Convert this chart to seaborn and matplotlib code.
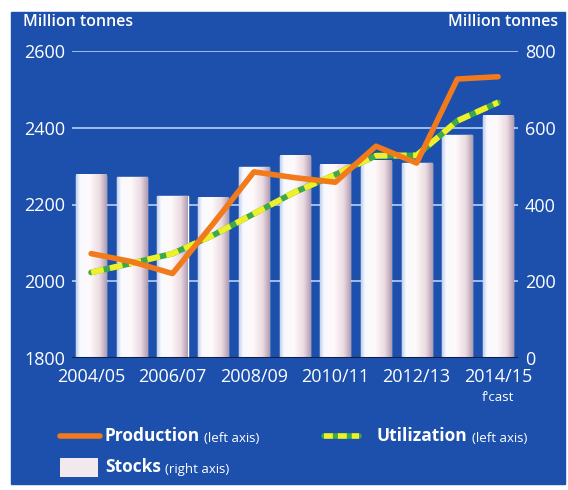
import numpy as np
import pandas as pd
import matplotlib
matplotlib.use("Agg")
import matplotlib.pyplot as plt
import seaborn as sns
from matplotlib.patches import Rectangle
from matplotlib.lines import Line2D

# ---- data ----
seasons = ["2004/05", "2005/06", "2006/07", "2007/08", "2008/09", "2009/10",
           "2010/11", "2011/12", "2012/13", "2013/14", "2014/15"]
production = [2072, 2051, 2020, 2150, 2285, 2270, 2258, 2352, 2308, 2527, 2533]
utilization = [2023, 2047, 2072, 2120, 2176, 2232, 2278, 2327, 2328, 2418, 2466]
stocks = [477, 471, 422, 417, 497, 527, 504, 514, 507, 581, 631]
tick_labels = ["2004/05", "2006/07", "2008/09", "2010/11", "2012/13", "2014/15"]
left_ticks = [1800, 2000, 2200, 2400, 2600]
right_ticks = [0, 200, 400, 600, 800]

BLUE = "#1d50ad"
GRID = "#a9c6f2"
ORANGE = "#f07a1c"
YELLOW = "#eef02a"
GREEN = "#3ea84a"
FONT = ["Open Sans", "DejaVu Sans"]

sns.set_theme(style="white")
plt.rcParams["font.family"] = FONT

W, H = 568, 490
fig = plt.figure(figsize=(W / 100, H / 100), dpi=100)
fig.patch.set_facecolor("white")
fig.add_artist(Rectangle((11 / W, 1 - 484 / H), (565 - 11) / W, (484 - 12) / H,
                         transform=fig.transFigure, color=BLUE, zorder=0))

ax = fig.add_axes([72 / W, 1 - 358 / H, (518 - 72) / W, (358 - 51) / H])
ax2 = ax.twinx()

df = pd.DataFrame({"season": seasons, "production": production,
                   "utilization": utilization, "stocks": stocks})
df["idx"] = np.arange(len(seasons))

# bars (right axis)
sns.barplot(data=df, x="idx", y="stocks", ax=ax2, width=0.74, color="#f2ecef",
            native_scale=True, saturation=1, zorder=2)
grad_cols = matplotlib.colors.LinearSegmentedColormap.from_list(
    "cyl", [(0.0, "#c4d0ec"), (0.12, "#f8f9ff"), (0.45, "#fffafa"),
            (0.78, "#ead9e0"), (1.0, "#b09cb2")])
g = np.linspace(0, 1, 64).reshape(1, -1)
for p in ax2.patches:
    x0, y0 = p.get_x(), p.get_y()
    w, h = p.get_width(), p.get_height()
    ax2.imshow(g, cmap=grad_cols, extent=[x0, x0 + w, y0, y0 + h],
               aspect="auto", zorder=2.5, interpolation="bicubic")

# lines (left axis)
sns.lineplot(data=df, x="idx", y="utilization", ax=ax, color=GREEN, lw=4.2, zorder=3)
sns.lineplot(data=df, x="idx", y="utilization", ax=ax, color=YELLOW, lw=4.2,
             linestyle=(0, (2.2, 1.1)), zorder=4)
sns.lineplot(data=df, x="idx", y="production", ax=ax, color=ORANGE, lw=4.0, zorder=5)

ax.set_zorder(3)
ax2.set_zorder(2)
ax.patch.set_visible(False)
ax2.patch.set_visible(False)

xlo, xhi = -0.47, len(seasons) - 1 + 0.49
ax.set_xlim(xlo, xhi)
ax.set_ylim(1800, 2600)
ax2.set_ylim(0, 800)

ax2.set_axisbelow(True)
ax2.yaxis.grid(True, color=GRID, lw=1.3)
ax2.xaxis.grid(False)
ax.grid(False)

for a in (ax, ax2):
    for s in a.spines.values():
        s.set_visible(False)
    a.set_xlabel("")
    a.set_ylabel("")

ax.axhline(1800, color="#0f1f4a", lw=2.2, zorder=6)

ax.set_yticks(left_ticks)
ax.set_yticklabels([str(v) for v in left_ticks])
ax2.set_yticks(right_ticks)
ax2.set_yticklabels([str(v) for v in right_ticks])
ax.set_xticks([seasons.index(t) for t in tick_labels])
ax.set_xticklabels(tick_labels)
ax.tick_params(axis="both", length=0, colors="white", labelsize=13)
ax.tick_params(axis="y", pad=5)
ax.tick_params(axis="x", pad=7)
ax2.tick_params(axis="both", length=0, colors="white", labelsize=13, pad=5)

ax.text(seasons.index("2014/15"), -0.108, "f'cast", transform=ax.get_xaxis_transform(),
        ha="center", va="top", color="white", fontsize=9.5)

fig.text(23 / W, 1 - 22 / H, "Million tonnes", color="white", fontsize=11.5,
         fontweight="semibold", va="center", ha="left")
fig.text(558 / W, 1 - 22 / H, "Million tonnes", color="white", fontsize=11.5,
         fontweight="semibold", va="center", ha="right")

# legend
def fx(x):
    return x / W

def fy(y):
    return 1 - y / H

fig.add_artist(Line2D([fx(60), fx(100)], [fy(436), fy(436)], color=ORANGE, lw=4.0,
                      transform=fig.transFigure))
fig.add_artist(Line2D([fx(324), fx(359)], [fy(436), fy(436)], color=GREEN, lw=4.0,
                      transform=fig.transFigure))
fig.add_artist(Line2D([fx(324), fx(359)], [fy(436), fy(436)], color=YELLOW, lw=4.0,
                      linestyle=(0, (1.6, 0.9)), transform=fig.transFigure))
fig.add_artist(Rectangle((fx(60), fy(477)), (98 - 60) / W, (477 - 458) / H,
                         transform=fig.transFigure, facecolor="#f1e9ee",
                         edgecolor="none"))

def legend_entry(x, y, bold, rest):
    t = fig.text(fx(x), fy(y), bold, color="white", fontsize=12.5,
                 fontweight="bold", va="baseline", ha="left")
    ax.annotate(rest, xy=(1, 0), xycoords=t, xytext=(3, 0),
                textcoords="offset points", color="white", fontsize=9.5,
                va="bottom", ha="left", annotation_clip=False)

legend_entry(105, 441, "Production", "(left axis)")
legend_entry(377, 441, "Utilization", "(left axis)")
legend_entry(105, 472, "Stocks", "(right axis)")

fig.savefig("out.png", dpi=100, facecolor=fig.get_facecolor())
